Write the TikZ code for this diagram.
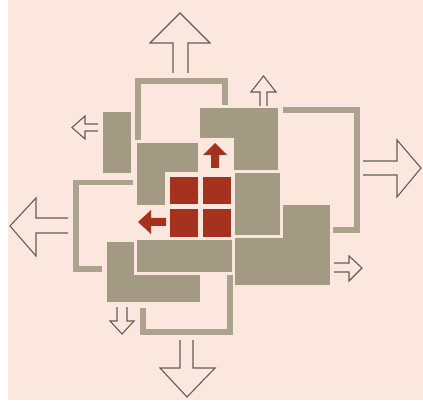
\documentclass[tikz,border=0pt]{standalone}
\definecolor{bgpink}{HTML}{FBE7DE}
\definecolor{blockgray}{HTML}{A39A83}
\definecolor{bracketgray}{HTML}{ABA38E}
\definecolor{brickred}{HTML}{A5321F}
\definecolor{outl}{HTML}{635C55}
\begin{document}
\begin{tikzpicture}[x=1pt,y=-1pt,
  block/.style={fill=blockgray,draw=none},
  gap/.style={fill=bgpink,draw=none},
  chan/.style={draw=bracketgray,line width=5.5pt,line join=miter,line cap=butt},
  hollow/.style={draw=outl,line width=1.1pt,line join=miter},
  redsq/.style={fill=brickred,draw=none}]
\useasboundingbox (0,0) rectangle (423,406);
\fill[white] (0,0) rectangle (423,406);
\fill[bgpink] (8,0) rectangle (423,400);
% channels
\draw[chan] (138,140) -- (138,81) -- (225,81) -- (225,105);
\draw[chan] (283,110) -- (357,110) -- (357,230) -- (333,230);
\draw[chan] (230,273) -- (230,332) -- (143,332) -- (143,308);
\draw[chan] (133,182.5) -- (76,182.5) -- (76,269) -- (102,269);
% blocks
\fill[block] (103,112) rectangle (131,173);
\fill[block] (200,108) rectangle (278,170);
\fill[block] (137,143) rectangle (198,205);
\fill[gap] (198,138) rectangle (234,173);
\fill[block] (235,205) rectangle (330,285);
\fill[gap] (232,170) rectangle (283,238);
\fill[block] (235,173) rectangle (280,235);
\fill[gap] (165,172) rectangle (234,239);
\fill[gap] (136,205) rectangle (167,239);
\fill[block] (107,242) rectangle (200,302);
\fill[gap] (134,238) rectangle (235,275);
\fill[block] (137,240) rectangle (232,272);
% red squares
\fill[redsq] (170,177) rectangle (198,204);
\fill[redsq] (203,177) rectangle (231,204);
\fill[redsq] (170,209) rectangle (198,237);
\fill[redsq] (203,209) rectangle (231,237);
% red arrows
\fill[brickred] (211,168) -- (211,155) -- (203,155) -- (215,143) -- (227,155) -- (219,155) -- (219,168) -- cycle;
\fill[brickred] (166,218) -- (151,218) -- (151,210) -- (138,222) -- (151,234) -- (151,226) -- (166,226) -- cycle;
% hollow arrows
\draw[hollow] (173,73) -- (173,43) -- (150,43) -- (180,13) -- (210,43) -- (188,43) -- (188,73);
\draw[hollow] (260,106) -- (260,92) -- (251,92) -- (263.5,76) -- (276,92) -- (267,92) -- (267,106);
\draw[hollow] (363,161) -- (397,161) -- (397,140) -- (421,168) -- (397,197) -- (397,175) -- (363,175);
\draw[hollow] (334,263) -- (349,263) -- (349,256) -- (362,268) -- (349,281) -- (349,272) -- (334,272);
\draw[hollow] (180,340) -- (180,368) -- (160,368) -- (187,397) -- (215,368) -- (193,368) -- (193,340);
\draw[hollow] (117,307) -- (117,321) -- (110,321) -- (122,334) -- (134,321) -- (127,321) -- (127,307);
\draw[hollow] (68,218) -- (36,218) -- (36,198) -- (10,226) -- (36,256) -- (36,233) -- (68,233);
\draw[hollow] (98,124) -- (85,124) -- (85,116) -- (72,127.5) -- (85,139) -- (85,131) -- (98,131);
\end{tikzpicture}
\end{document}
